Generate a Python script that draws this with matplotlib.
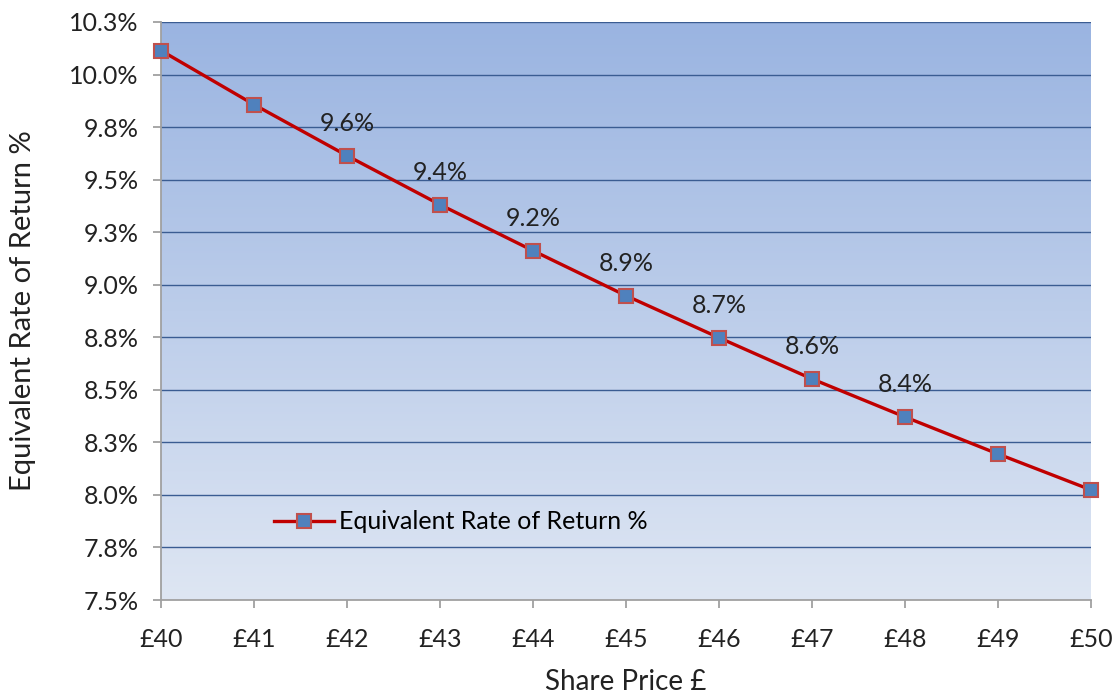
import numpy as np
import matplotlib.pyplot as plt
import matplotlib.ticker as mticker
from matplotlib.colors import LinearSegmentedColormap
from decimal import Decimal, ROUND_HALF_UP

# Share price vs equivalent rate of return
prices = [40, 41, 42, 43, 44, 45, 46, 47, 48, 49, 50]
rates = [10.114, 9.857, 9.614, 9.381, 9.162, 8.948, 8.748, 8.552, 8.371, 8.195, 8.024]
labelled = [42, 43, 44, 45, 46, 47, 48]
y_ticks = [7.5, 7.75, 8.0, 8.25, 8.5, 8.75, 9.0, 9.25, 9.5, 9.75, 10.0, 10.25]
series_name = "Equivalent Rate of Return %"


def pct(v):
    # spreadsheet-style rounding (half up) to one decimal
    d = Decimal(str(round(v, 6))).quantize(Decimal("0.1"), rounding=ROUND_HALF_UP)
    return f"{d}%"


plt.rcParams["font.family"] = ["Lato", "DejaVu Sans"]

fig = plt.figure(figsize=(11.13, 6.96), dpi=100)
ax = fig.add_axes([0.1447, 0.1379, 0.8355, 0.8305])

# vertical gradient fill behind the plot
grad = np.linspace(0, 1, 256).reshape(-1, 1)
cmap = LinearSegmentedColormap.from_list("bg", ["#DEE6F3", "#9AB4E1"])
ax.imshow(grad, cmap=cmap, aspect="auto", origin="lower",
          extent=[40, 50, 7.5, 10.25], zorder=0)

for yv in y_ticks[1:]:
    ax.axhline(yv, color="#3A5C92", linewidth=1.0, zorder=1)

ax.plot(prices, rates, color="#C00000", linewidth=2.4, marker="s",
        markersize=9.5, markerfacecolor="#4F81BD", markeredgecolor="#C0504D",
        markeredgewidth=1.5, label=series_name, zorder=3, clip_on=False)

for p, r in zip(prices, rates):
    if p in labelled:
        ax.annotate(pct(r), (p, r), xytext=(0, 23), textcoords="offset points",
                    ha="center", va="center", fontsize=18, color="#222222", zorder=4)

ax.set_xlim(40, 50)
ax.set_ylim(7.5, 10.25)
ax.set_xticks(prices)
ax.set_xticklabels([f"£{p}" for p in prices])
ax.set_yticks(y_ticks)
ax.yaxis.set_major_formatter(mticker.FuncFormatter(lambda v, _: pct(v)))

for side in ("top", "right"):
    ax.spines[side].set_visible(False)
for side in ("left", "bottom"):
    ax.spines[side].set_color("#A0A0A0")
    ax.spines[side].set_linewidth(1.3)
ax.tick_params(axis="both", direction="out", length=6, width=1.3, color="#A0A0A0",
               labelsize=18, labelcolor="#222222")
ax.tick_params(axis="x", pad=14)
ax.tick_params(axis="y", pad=10)

ax.set_xlabel("Share Price £", fontsize=20, color="#222222", labelpad=13)
ax.set_ylabel(series_name, fontsize=21, color="#222222", labelpad=24)

ax.legend(loc="center left", bbox_to_anchor=(0.097, 0.135), frameon=False,
          fontsize=18, handlelength=2.4, handletextpad=0.2)

fig.savefig("out.png", dpi=100)
